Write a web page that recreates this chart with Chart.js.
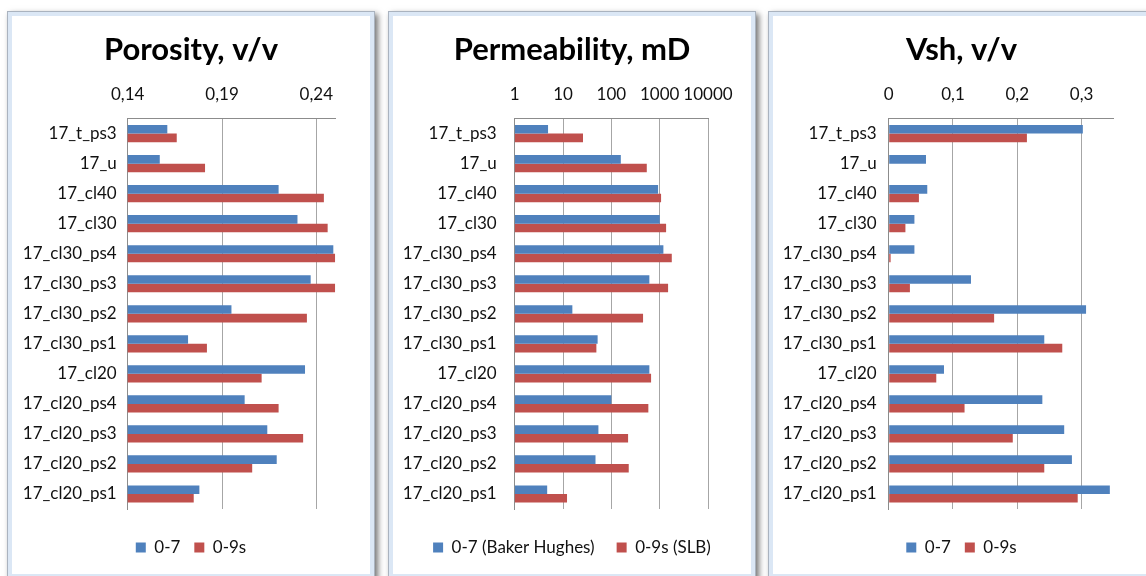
<!DOCTYPE html>
<html>
<head>
<meta charset="utf-8">
<title>Porosity, permeability and Vsh by zone</title>
<script src="https://cdn.jsdelivr.net/npm/chart.js@4/dist/chart.umd.min.js"></script>
<style>
  html, body { margin: 0; padding: 0; background: #ffffff; overflow: hidden; }
  body { width: 1146px; height: 576px; position: relative; }
  .panel {
    position: absolute;
    top: 11px;
    box-sizing: border-box;
    height: 568px;
    border: 1px solid #aab3bf;
    background: #dbe7f5;
    padding: 4px;
    box-shadow: 3px 3px 6px rgba(0, 0, 0, 0.55);
  }
  .panel .inner { background: #ffffff; width: 100%; height: 100%; position: relative; }
  .panel canvas { position: absolute; left: 0; top: 0; }
</style>
</head>
<body>
<div class="panel" style="left:7px;width:368px;"><div class="inner"><canvas id="cPor" width="358" height="558"></canvas></div></div>
<div class="panel" style="left:388px;width:368px;"><div class="inner"><canvas id="cPerm" width="358" height="558"></canvas></div></div>
<div class="panel" style="left:768px;width:383px;"><div class="inner"><canvas id="cVsh" width="373" height="558"></canvas></div></div>
<script>
// Zones, top to bottom
const zones = ['17_t_ps3', '17_u', '17_cl40', '17_cl30', '17_cl30_ps4', '17_cl30_ps3',
  '17_cl30_ps2', '17_cl30_ps1', '17_cl20', '17_cl20_ps4', '17_cl20_ps3', '17_cl20_ps2', '17_cl20_ps1'];

// Porosity, v/v
const porosity07 = [0.161, 0.157, 0.220, 0.230, 0.249, 0.237, 0.195, 0.172, 0.234, 0.202, 0.214, 0.219, 0.178];
const porosity09s = [0.166, 0.181, 0.244, 0.246, 0.250, 0.250, 0.235, 0.182, 0.211, 0.220, 0.233, 0.206, 0.175];
const porosityTicks = [0.14, 0.19, 0.24];
const porosityTickLabels = ['0,14', '0,19', '0,24'];

// Permeability, mD
const perm07 = [4.9, 157, 927, 1005, 1194, 612, 15.6, 52, 612, 100, 54, 47, 4.7];
const perm09s = [25.9, 541, 1069, 1358, 1780, 1493, 453, 49, 664, 583, 222, 229, 12.1];
const permTicks = [1, 10, 100, 1000, 10000];
const permTickLabels = ['1', '10', '100', '1000', '10000'];

// Vsh, v/v
const vsh07 = [0.302, 0.058, 0.060, 0.040, 0.040, 0.128, 0.307, 0.242, 0.086, 0.239, 0.273, 0.285, 0.344];
const vsh09s = [0.215, null, 0.047, 0.026, 0.003, 0.033, 0.164, 0.270, 0.074, 0.118, 0.193, 0.242, 0.294];
const vshTicks = [0, 0.1, 0.2, 0.3];
const vshTickLabels = ['0', '0,1', '0,2', '0,3'];

const BLUE = '#4f81bd';
const RED = '#c0504d';
const FONT = 'Lato, "Open Sans", "DejaVu Sans", sans-serif';

function panelChart(id, p) {
  return new Chart(document.getElementById(id), {
    type: 'bar',
    data: {
      labels: zones,
      datasets: [
        { label: p.names[0], data: p.a, backgroundColor: BLUE, xAxisID: 'x', yAxisID: 'y' },
        { label: p.names[1], data: p.b, backgroundColor: RED, xAxisID: 'x', yAxisID: 'y' }
      ]
    },
    options: {
      indexAxis: 'y',
      responsive: false,
      animation: false,
      devicePixelRatio: 1,
      datasets: { bar: { categoryPercentage: 0.573, barPercentage: 1.0 } },
      layout: { padding: { left: p.padLeft, right: 0, top: 0, bottom: 8 } },
      plugins: {
        title: {
          display: true,
          text: p.title,
          color: '#000',
          font: { family: FONT, size: 31, weight: 'bold', lineHeight: 1.2 },
          padding: { top: 15.4, bottom: 0 }
        },
        legend: {
          display: true,
          position: 'bottom',
          labels: {
            color: '#111',
            font: { family: FONT, size: 17 },
            boxWidth: 10,
            boxHeight: 10,
            padding: p.legendGap
          }
        },
        tooltip: { enabled: false }
      },
      scales: {
        x: {
          type: p.type,
          position: 'top',
          min: p.min,
          max: p.max,
          afterBuildTicks: s => { s.ticks = p.ticks.map(v => ({ value: v })); },
          afterFit: s => { s.height = 50; },
          ticks: {
            color: '#111',
            font: { family: FONT, size: 17 },
            padding: 14,
            maxRotation: 0,
            autoSkip: false,
            callback: (v, i) => p.tickLabels[i]
          },
          grid: { color: '#a6a6a6', lineWidth: 1, drawTicks: false },
          border: { display: true, color: '#8c8c8c', width: 1 }
        },
        // empty band between the plot and the legend
        xb: {
          type: 'linear',
          position: 'bottom',
          display: true,
          ticks: { display: false },
          grid: { display: false, drawTicks: false },
          border: { display: false },
          afterFit: s => { s.height = 30 - p.legendGap; }
        },
        // empty margin to the right of the plot
        yr: {
          type: 'linear',
          position: 'right',
          display: true,
          ticks: { display: false },
          grid: { display: false, drawTicks: false },
          border: { display: false },
          afterFit: s => { s.width = p.rightGap; }
        },
        y: {
          type: 'category',
          position: 'left',
          afterFit: s => { s.width = p.yWidth; },
          ticks: {
            color: '#111',
            font: { family: FONT, size: 17 },
            padding: p.labelPad,
            autoSkip: false
          },
          grid: { display: false, drawTicks: false },
          border: { display: true, color: '#8c8c8c', width: 1 }
        }
      }
    }
  });
}

panelChart('cPor', {
  title: 'Porosity, v/v', names: ['0-7', '0-9s'],
  a: porosity07, b: porosity09s,
  type: 'linear', min: 0.14, max: 0.25,
  ticks: porosityTicks, tickLabels: porosityTickLabels,
  padLeft: 0, yWidth: 115.7, rightGap: 34.8, labelPad: 11, legendGap: 14
});

panelChart('cPerm', {
  title: 'Permeability, mD', names: ['0-7 (Baker Hughes)', '0-9s (SLB)'],
  a: perm07, b: perm09s,
  type: 'logarithmic', min: 1, max: 10000,
  ticks: permTicks, tickLabels: permTickLabels,
  padLeft: 0, yWidth: 121.7, rightGap: 43, labelPad: 18, legendGap: 22
});

panelChart('cVsh', {
  title: 'Vsh, v/v', names: ['0-7', '0-9s'],
  a: vsh07, b: vsh09s,
  type: 'linear', min: 0, max: 0.35,
  ticks: vshTicks, tickLabels: vshTickLabels,
  padLeft: 4, yWidth: 111.7, rightGap: 32.3, labelPad: 12, legendGap: 14
});
</script>
</body>
</html>
